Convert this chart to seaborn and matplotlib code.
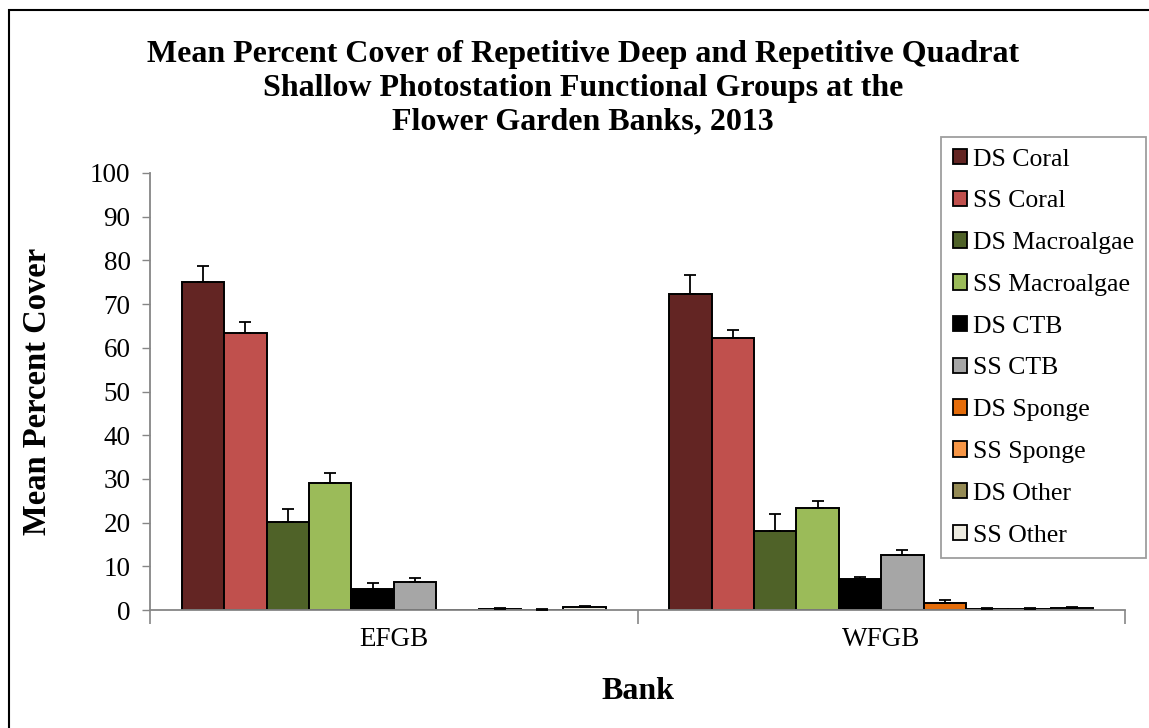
import numpy as np
import seaborn as sns
import pandas as pd
import matplotlib.pyplot as plt
from matplotlib.patches import Rectangle

#------------------------------------------------------------------------------#
# Mean percent cover of deep / shallow photostation functional groups, FGB 2013
#------------------------------------------------------------------------------#

banks  = ['EFGB', 'WFGB']
groups = ['DS Coral', 'SS Coral', 'DS Macroalgae', 'SS Macroalgae', 'DS CTB',
          'SS CTB', 'DS Sponge', 'SS Sponge', 'DS Other', 'SS Other']

# mean values per bank, in group order
efgb_mean = [75.0, 63.3, 20.1, 29.0, 4.9, 6.5, 0.0, 0.3, 0.1, 0.8]
wfgb_mean = [72.3, 62.2, 18.1, 23.4, 7.0, 12.6, 1.5, 0.3, 0.3, 0.5]

# upper error (standard error) per bank
efgb_err = [3.7, 2.7, 3.1, 2.3, 1.2, 0.9, 0.0, 0.1, 0.05, 0.2]
wfgb_err = [4.4, 1.9, 3.8, 1.6, 0.6, 1.1, 0.8, 0.1, 0.2, 0.1]

colors = ['#632523', '#C0504D', '#4F6228', '#9BBB59', '#000000',
          '#A6A6A6', '#E46C0A', '#F79646', '#948A54', '#EEECE1']

#------------------------------------------------------------------------------#

def main():

    # long-form table for seaborn
    rows = []
    for bank, means, errs in zip(banks, [efgb_mean, wfgb_mean], [efgb_err, wfgb_err]):
        for g, m, e in zip(groups, means, errs):
            rows.append({'Bank': bank, 'Group': g, 'Cover': m, 'Err': e})
    DF = pd.DataFrame(rows)

    sns.set_style('white')
    plt.rcParams['font.family'] = ['Liberation Serif', 'DejaVu Serif']
    plt.rcParams['text.color'] = 'black'
    plt.rcParams['axes.labelcolor'] = 'black'
    plt.rcParams['xtick.labelcolor'] = 'black'
    plt.rcParams['ytick.labelcolor'] = 'black'

    W, H = 1149, 728
    fig = plt.figure(figsize=(W / 100, H / 100), dpi=100)
    ax = fig.add_axes([150 / W, (H - 610) / H, (1125 - 150) / W, (610 - 173) / H])

    sns.barplot(data=DF, x='Bank', y='Cover', hue='Group', hue_order=groups,
                order=banks, palette=colors, width=0.87, edgecolor='black',
                linewidth=1.4, errorbar=None, ax=ax, saturation=1)

    # error bars (plus direction only), placed on the bars seaborn drew
    for container, g in zip(ax.containers, groups):
        for bar, bank in zip(container, banks):
            err = DF[(DF.Group == g) & (DF.Bank == bank)].Err.values[0]
            x = bar.get_x() + bar.get_width() / 2
            y = bar.get_height()
            if err > 0:
                ax.errorbar(x, y, yerr=[[0], [err]], fmt='none', ecolor='black',
                            elinewidth=1.3, capsize=4.5, capthick=1.3, zorder=3)

    ax.set_ylim(0, 100)
    ax.set_xlim(-0.5, 1.5)
    ax.set_yticks(np.arange(0, 101, 10))
    ax.tick_params(axis='y', direction='out', length=6, width=1, color='#868686',
                   labelsize=19.5, pad=8, left=True)

    # category boundary ticks (major) and labels (minor)
    ax.set_xticks([-0.5, 0.5, 1.5])
    ax.set_xticklabels([])
    ax.set_xticks([0, 1], minor=True)
    ax.set_xticklabels(banks, minor=True)
    ax.tick_params(axis='x', which='major', direction='out', length=10, width=1.2,
                   color='#868686', bottom=True)
    ax.tick_params(axis='x', which='minor', length=0, labelsize=19.5, pad=12)

    sns.despine(ax=ax)
    for s in ['left', 'bottom']:
        ax.spines[s].set_color('#868686')
        ax.spines[s].set_linewidth(1.3)

    ax.set_xlabel('Bank', fontsize=23, fontweight='bold', labelpad=18)
    ax.set_ylabel('Mean Percent Cover', fontsize=23.5, fontweight='bold', labelpad=27)

    fig.text(583 / W, 1 - 40 / H,
             'Mean Percent Cover of Repetitive Deep and Repetitive Quadrat\n'
             'Shallow Photostation Functional Groups at the\n'
             'Flower Garden Banks, 2013',
             ha='center', va='top', fontsize=23, fontweight='bold',
             linespacing=1.22)

    handles, labels = ax.get_legend_handles_labels()
    ax.get_legend().remove()
    leg = fig.legend(handles, labels, loc='upper left',
                     bbox_to_anchor=(941 / W, 1 - 137 / H), frameon=True,
                     fancybox=False, fontsize=18.5, handlelength=0.55,
                     handleheight=0.55, handletextpad=0.25, labelspacing=0.77,
                     borderpad=0.45, borderaxespad=0)
    leg.get_frame().set_edgecolor('#868686')
    leg.get_frame().set_linewidth(1.3)
    for h in leg.legend_handles:
        h.set_edgecolor('black')
        h.set_linewidth(1.3)

    # outer chart border
    fig.patches.append(Rectangle((9 / W, -0.01), 1.2, 1 - 10 / H + 0.01,
                                 transform=fig.transFigure, fill=False,
                                 edgecolor='black', linewidth=1.5))

    fig.savefig('out.png', dpi=100)

if __name__ == '__main__':
    main()
